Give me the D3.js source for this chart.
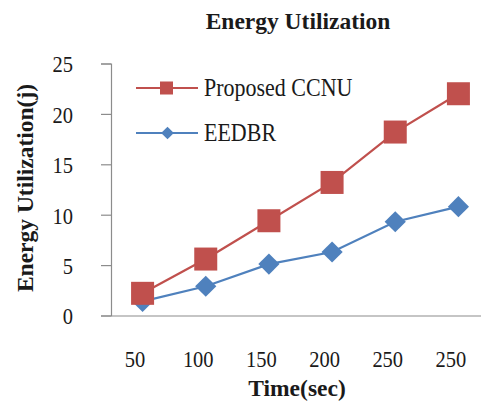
<!DOCTYPE html>
<html>
<head>
<meta charset="utf-8">
<script src="https://cdn.jsdelivr.net/npm/d3@7"></script>
<style>
  html, body { margin: 0; padding: 0; background: #fff; }
  svg text { font-family: "Liberation Serif", "Times New Roman", serif; fill: #1a1a1a; }
</style>
</head>
<body>
<svg id="chart" width="481" height="405"></svg>
<script>
// Time categories (sec) and energy values (j) for each protocol
const categories = ["50", "100", "150", "200", "250", "250"];
const ccnu = [2.2, 5.6, 9.4, 13.2, 18.2, 22.0];
const eedbr = [1.4, 2.9, 5.1, 6.3, 9.3, 10.8];
const yTicks = [0, 5, 10, 15, 20, 25];
const seriesNames = ["Proposed CCNU", "EEDBR"];

const red = "#C0504D", blue = "#4F81BD", axisGray = "#8c8c8c";

const svg = d3.select("#chart");
const plotLeft = 111, plotRight = 490, plotTop = 63.5, plotBottom = 315.5;

// Categories repeat ("250" twice), so the point scale is keyed by index
const idx = categories.map((c, i) => i);
const x = d3.scalePoint().domain(idx).range([plotLeft, plotRight]).padding(0.5);
const y = d3.scaleLinear().domain([0, 25]).range([plotBottom, plotTop]);

// Title
svg.append("text").attr("x", 298).attr("y", 29).attr("text-anchor", "middle")
  .attr("font-size", 23.5).attr("font-weight", "bold").text("Energy Utilization");

// Y axis
const yAxis = svg.append("g").attr("transform", `translate(${plotLeft},0)`)
  .call(d3.axisLeft(y).tickValues(yTicks).tickSize(10).tickPadding(28));
yAxis.select(".domain").attr("stroke", axisGray).attr("stroke-width", 1.2);
yAxis.selectAll(".tick line").attr("stroke", axisGray).attr("stroke-width", 1.2);
yAxis.selectAll(".tick text").attr("font-size", 20.5).attr("fill", "#1a1a1a")
  .attr("font-family", "Liberation Serif, serif")
  .attr("dy", null)
  .attr("transform", "translate(0,3) scale(1,1.15)")
  .attr("dominant-baseline", "middle");

// X axis
const xAxis = svg.append("g").attr("transform", `translate(0,${plotBottom})`)
  .call(d3.axisBottom(x).tickSize(0).tickPadding(0).tickFormat(i => categories[i]));
xAxis.select(".domain").attr("stroke", axisGray).attr("stroke-width", 1.2);
xAxis.selectAll(".tick text").attr("font-size", 20.5).attr("fill", "#1a1a1a")
  .attr("font-family", "Liberation Serif, serif")
  .attr("y", null).attr("dy", null)
  .attr("transform", "translate(-8,51) scale(1,1.15)");

// Axis titles
svg.append("text").attr("x", 297).attr("y", 396).attr("text-anchor", "middle")
  .attr("font-size", 23.5).attr("font-weight", "bold").text("Time(sec)");
svg.append("text").attr("transform", "translate(33,188) rotate(-90)")
  .attr("text-anchor", "middle").attr("font-size", 23.5).attr("font-weight", "bold")
  .text("Energy Utilization(j)");

const line = d3.line().x((d, i) => x(i)).y(d => y(d));

// EEDBR series (diamonds)
svg.append("path").datum(eedbr).attr("d", line).attr("fill", "none")
  .attr("stroke", blue).attr("stroke-width", 2.2);
const dia = 15;
svg.selectAll(".dia").data(eedbr).enter().append("rect")
  .attr("x", -dia / 2).attr("y", -dia / 2).attr("width", dia).attr("height", dia)
  .attr("fill", blue)
  .attr("transform", (d, i) => `translate(${x(i)},${y(d)}) rotate(45)`);

// Proposed CCNU series (squares)
svg.append("path").datum(ccnu).attr("d", line).attr("fill", "none")
  .attr("stroke", red).attr("stroke-width", 2.2);
const sq = 23;
svg.selectAll(".sq").data(ccnu).enter().append("rect")
  .attr("x", (d, i) => x(i) - sq / 2).attr("y", d => y(d) - sq / 2)
  .attr("width", sq).attr("height", sq).attr("fill", red);

// Legend
const legend = [
  { name: seriesNames[0], color: red, shape: "square", y: 88 },
  { name: seriesNames[1], color: blue, shape: "diamond", y: 133 }
];
legend.forEach(l => {
  svg.append("line").attr("x1", 136).attr("x2", 198).attr("y1", l.y).attr("y2", l.y)
    .attr("stroke", l.color).attr("stroke-width", 2.2);
  if (l.shape === "square") {
    svg.append("rect").attr("x", 160).attr("y", l.y - 6.5).attr("width", 13).attr("height", 13)
      .attr("fill", l.color);
  } else {
    svg.append("rect").attr("x", -4.5).attr("y", -4.5).attr("width", 9).attr("height", 9)
      .attr("fill", l.color).attr("transform", `translate(167.5,${l.y}) rotate(45)`);
  }
  svg.append("text").attr("x", 204).attr("y", l.y + 8.5).attr("font-size", 22)
    .attr("transform", `translate(0,${-(l.y + 8.5) * 0.12}) scale(1,1.12)`).text(l.name);
});
</script>
</body>
</html>
